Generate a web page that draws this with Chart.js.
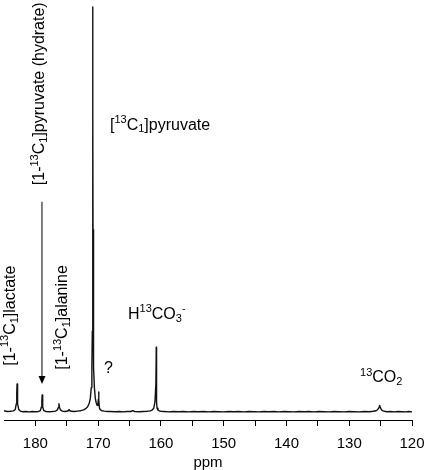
<!DOCTYPE html>
<html>
<head>
<meta charset="utf-8">
<script src="https://cdn.jsdelivr.net/npm/chart.js@4.4.1/dist/chart.umd.min.js"></script>
<style>
html,body{margin:0;padding:0;background:#fff;}
canvas{display:block;}
</style>
</head>
<body>
<canvas id="c" width="425" height="470"></canvas>
<script>
// Chemical shift (ppm) and intensity (relative, pyruvate = 100)
const ppm = [
  185.0, 184.5, 184.0, 183.5, 183.2, 183.05, 182.97, 182.92, 182.87, 182.8, 182.65, 182.4, 182.0,
  181.5, 181.0, 180.5, 180.0, 179.5, 179.2, 179.05, 178.97, 178.92, 178.87, 178.8, 178.65, 178.3,
  177.8, 177.3, 176.8, 176.5, 176.35, 176.25, 176.15, 176.0, 175.7, 175.3, 175.0, 174.8, 174.65,
  174.5, 174.3, 173.8, 173.3, 172.8, 172.3, 172.0, 171.7, 171.45, 171.25, 171.1, 171.0, 170.93,
  170.88, 170.86, 170.85, 170.84, 170.82, 170.77, 170.7, 170.6, 170.45, 170.3, 170.15, 170.05,
  169.96, 169.92, 169.88, 169.8, 169.65, 169.4, 169.0, 168.5, 168.0, 167.3, 166.6, 166.0, 165.4,
  164.8, 164.5, 164.2, 163.5, 162.8, 162.2, 161.7, 161.4, 161.15, 160.95, 160.8, 160.74, 160.71,
  160.68, 160.62, 160.47, 160.25, 160.0, 159.5, 158.8, 158.0, 157.2, 156.4, 155.6, 154.8, 154.0,
  153.2, 152.4, 151.6, 150.8, 150.0, 149.2, 148.4, 147.6, 146.8, 146.0, 145.2, 144.4, 143.6,
  142.8, 142.0, 141.2, 140.4, 139.6, 138.8, 138.0, 137.2, 136.4, 135.6, 134.8, 134.0, 133.2,
  132.4, 131.6, 130.8, 130.0, 129.2, 128.4, 127.6, 126.8, 126.2, 125.7, 125.45, 125.28, 125.15,
  125.02, 124.88, 124.7, 124.4, 124.0, 123.4, 122.8, 122.2, 121.6, 121.0, 120.5, 120.0
];
const intensity = [
  0.3, 0.1, 0.15, 0.25, 0.6, 2.0, 4.5, 6.9, 4.5, 2.0, 0.6, 0.2, 0.05,
  0.1, 0.0, 0.1, 0.05, 0.1, 0.3, 1.2, 2.8, 4.2, 2.8, 1.2, 0.3, 0.1,
  0.05, 0.1, 0.2, 0.5, 1.1, 2.0, 1.1, 0.5, 0.2, 0.1, 0.15, 0.3, 0.6,
  0.3, 0.15, 0.1, 0.2, 0.3, 0.5, 0.8, 1.2, 2.0, 3.3, 6.0, 11.0, 20.0,
  45.0, 75.0, 100.0, 75.0, 45.0, 20.0, 11.0, 6.0, 3.3, 2.2, 1.6, 1.8,
  3.2, 4.9, 3.0, 1.0, 0.5, 0.3, 0.2, 0.1, 0.1, 0.05, 0.1, 0.0, 0.1,
  0.1, 0.3, 0.1, 0.05, 0.1, 0.15, 0.25, 0.45, 0.9, 2.5, 7.0, 16.0, 7.0,
  2.5, 0.9, 0.45, 0.25, 0.15, 0.1, 0.0, 0.1, 0.05, 0.1, 0.0, 0.1, 0.05,
  0.1, 0.0, 0.1, 0.05, 0.0, 0.1, 0.05, 0.1, 0.0, 0.1, 0.05, 0.0, 0.1,
  0.05, 0.1, 0.0, 0.1, 0.05, 0.0, 0.1, 0.05, 0.1, 0.0, 0.1, 0.05, 0.0,
  0.1, 0.05, 0.0, 0.1, 0.05, 0.0, 0.1, 0.05, 0.15, 0.3, 0.6, 1.0, 1.6,
  1.0, 0.6, 0.3, 0.15, 0.05, 0.1, 0.0, 0.1, 0.05, 0.0, 0.1, 0.0
];
const tickValues = [180, 175, 170, 165, 160, 155, 150, 145, 140, 135, 130, 125, 120];
const tickLabels = ['180', '', '170', '', '160', '', '150', '', '140', '', '130', '', '120'];
const axisTitle = 'ppm';

// Peak labels: text parts (s = superscript, b = subscript), anchor in data units
const peakLabels = [
  { parts: [['[1-'], ['13','s'], ['C'], ['1','b'], [']lactate']], x: 183.96, y: 11.4, rot: true },
  { parts: [['[1-'], ['13','s'], ['C'], ['1','b'], [']pyruvate (hydrate)']], x: 179.26, y: 56.0, rot: true },
  { parts: [['[1-'], ['13','s'], ['C'], ['1','b'], [']alanine']], x: 175.6, y: 10.4, rot: true },
  { parts: [['['], ['13','s'], ['C'], ['1','b'], [']pyruvate']], x: 168.11, y: 70.8, rot: false },
  { parts: [['?']], x: 169.07, y: 10.6, rot: false },
  { parts: [['H'], ['13','s'], ['CO'], ['3','b'], ['-','s']], x: 165.25, y: 24.0, rot: false },
  { parts: [['13','s'], ['CO'], ['2','b']], x: 128.28, y: 8.4, rot: false }
];
const arrowFrom = { x: 178.95, y: 51.9 };
const arrowTo = { x: 178.95, y: 6.9 };

const FONT = '"Liberation Sans", Arial, sans-serif';

function drawRich(ctx, parts, size) {
  let cx = 0;
  parts.forEach(p => {
    const [t, kind] = p;
    let fs = size, dy = 0;
    if (kind === 's') { fs = Math.round(size * 0.68); dy = -size * 0.33; }
    if (kind === 'b') { fs = Math.round(size * 0.68); dy = size * 0.25; }
    ctx.font = fs + 'px ' + FONT;
    ctx.fillText(t, cx, dy);
    cx += ctx.measureText(t).width;
  });
}

const labelPlugin = {
  id: 'peakLabels',
  afterDatasetsDraw(chart) {
    const { ctx, scales: { x, y } } = chart;
    ctx.save();
    ctx.fillStyle = '#000';
    ctx.textBaseline = 'middle';
    ctx.textAlign = 'left';
    peakLabels.forEach(l => {
      const px = x.getPixelForValue(l.x);
      const py = y.getPixelForValue(l.y);
      ctx.save();
      ctx.translate(px, py);
      if (l.rot) ctx.rotate(-Math.PI / 2);
      drawRich(ctx, l.parts, 16);
      ctx.restore();
    });
    // arrow
    const ax = x.getPixelForValue(arrowFrom.x);
    const ay1 = y.getPixelForValue(arrowFrom.y);
    const ay2 = y.getPixelForValue(arrowTo.y);
    ctx.strokeStyle = '#000';
    ctx.lineWidth = 1;
    ctx.beginPath();
    ctx.moveTo(ax, ay1);
    ctx.lineTo(ax, ay2 - 7);
    ctx.stroke();
    ctx.beginPath();
    ctx.moveTo(ax - 3.5, ay2 - 8);
    ctx.lineTo(ax + 3.5, ay2 - 8);
    ctx.lineTo(ax, ay2);
    ctx.closePath();
    ctx.fill();
    ctx.restore();
  }
};

new Chart(document.getElementById('c'), {
  type: 'line',
  data: {
    datasets: [{
      data: ppm.map((p, i) => ({ x: p, y: intensity[i] })),
      borderColor: '#111',
      borderWidth: 1.4,
      borderJoinStyle: 'round',
      pointRadius: 0,
      tension: 0,
      fill: false
    }]
  },
  options: {
    responsive: false,
    animation: false,
    devicePixelRatio: 1,
    layout: { padding: { left: 4, right: 13, top: 5, bottom: 0 } },
    plugins: { legend: { display: false }, tooltip: { enabled: false } },
    scales: {
      x: {
        type: 'linear',
        reverse: true,
        min: 120,
        max: 185,
        afterBuildTicks: s => { s.ticks = tickValues.map(v => ({ value: v })); },
        afterFit: s => { s.height = 50; s.paddingLeft = 0; s.paddingRight = 0; },
        ticks: {
          autoSkip: false,
          maxRotation: 0,
          padding: 9,
          color: '#000',
          font: { family: FONT, size: 15 },
          callback: v => { const i = tickValues.indexOf(v); return i >= 0 ? tickLabels[i] : ''; }
        },
        grid: { drawOnChartArea: false, drawTicks: true, tickLength: 6, color: '#000', lineWidth: 1 },
        border: { display: true, color: '#000', width: 1 },
        title: { display: true, text: axisTitle, color: '#000', font: { family: FONT, size: 15, lineHeight: 1.0 }, padding: { top: 0, bottom: 0 } }
      },
      y: { display: false, min: -2, max: 100.5 }
    }
  },
  plugins: [labelPlugin]
});
</script>
</body>
</html>
